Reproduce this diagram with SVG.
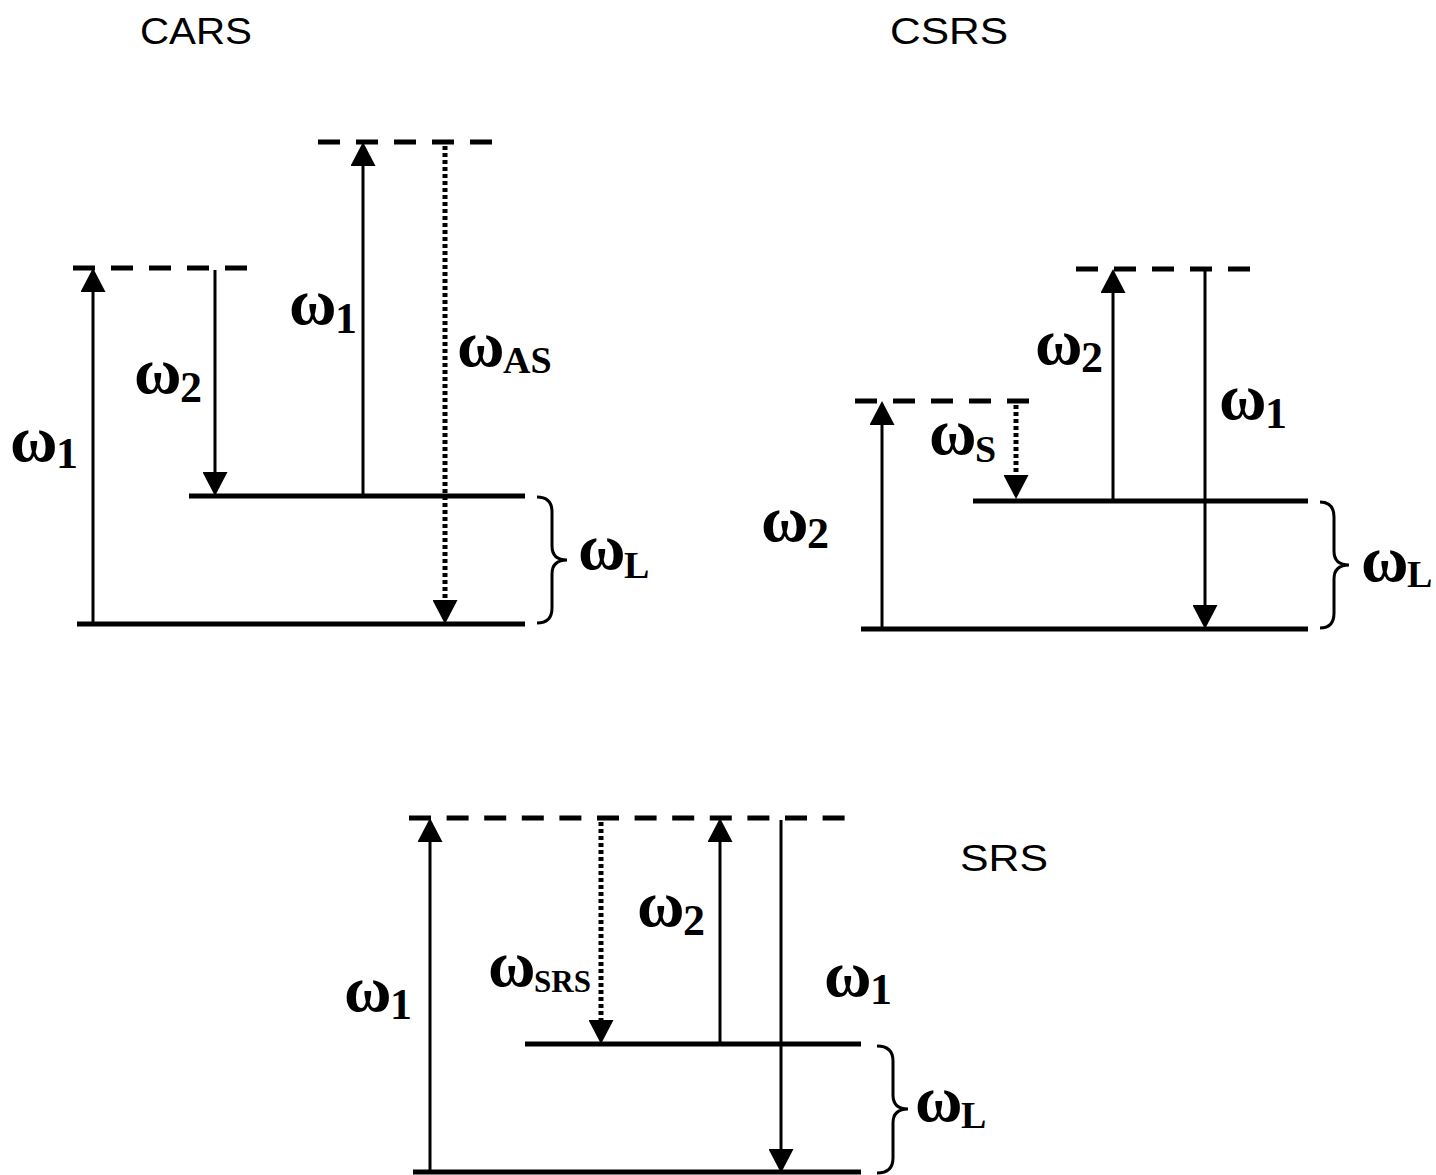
<svg xmlns="http://www.w3.org/2000/svg" width="1436" height="1175" viewBox="0 0 1436 1175">
<defs>
<style>
.level{stroke:#000;stroke-width:5;fill:none}
.virt{stroke:#000;stroke-width:5;fill:none;stroke-dasharray:22 16}
.arr{stroke:#000;stroke-width:3;fill:none;marker-end:url(#ah)}
.dot{stroke:#000;stroke-width:5;fill:none;stroke-dasharray:4 3;marker-end:url(#ah)}
.brace{stroke:#000;stroke-width:3;fill:none}
.title{font-family:"Liberation Sans",Arial,sans-serif;font-size:36px;fill:#000}
.w{font-family:"Liberation Serif","Times New Roman",serif;font-weight:bold;font-size:65px;fill:#000}
.sd{font-size:44px}
.sl{font-size:38px}
</style>
<marker id="ah" viewBox="0 0 24 25" markerWidth="24" markerHeight="25" markerUnits="userSpaceOnUse" refX="12" refY="12.5" orient="auto">
<path d="M0,0 L24,12.5 L0,25 Z" fill="#000"/>
</marker>
</defs>
<rect width="1436" height="1175" fill="#fff"/>

<text class="title" x="140" y="44" textLength="112" lengthAdjust="spacingAndGlyphs">CARS</text>
<text class="title" x="890" y="44" textLength="118" lengthAdjust="spacingAndGlyphs">CSRS</text>
<text class="title" x="960" y="871" textLength="88" lengthAdjust="spacingAndGlyphs">SRS</text>

<g id="cars">
<line class="virt" x1="318" y1="142" x2="492" y2="142"/>
<line class="virt" x1="73" y1="268" x2="247" y2="268"/>
<line class="level" x1="189" y1="496" x2="525" y2="496"/>
<line class="level" x1="77" y1="624" x2="525" y2="624"/>
<path class="brace" d="M537,497 Q552,497 552,512 L552,546 Q552,560 567,560 Q552,560 552,574 L552,608 Q552,623 537,623"/>
</g>
<g id="csrs">
<line class="virt" x1="1076" y1="269" x2="1250" y2="269"/>
<line class="virt" x1="855" y1="401" x2="1029" y2="401"/>
<line class="level" x1="973" y1="501" x2="1308" y2="501"/>
<line class="level" x1="861" y1="629" x2="1308" y2="629"/>
<path class="brace" d="M1320,502 Q1334,502 1334,517 L1334,551 Q1334,565 1349,565 Q1334,565 1334,579 L1334,613 Q1334,628 1320,628"/>
</g>
<g id="srs">
<line class="virt" x1="409" y1="818" x2="845" y2="818" style="stroke-dasharray:22 15.6"/>
<line class="level" x1="525" y1="1044" x2="861" y2="1044"/>
<line class="level" x1="413" y1="1172" x2="861" y2="1172"/>
<path class="brace" d="M877,1046 Q893,1046 893,1061 L893,1095 Q893,1109 908,1109 Q893,1109 893,1123 L893,1158 Q893,1173 877,1173"/>
</g>

<g id="connectors">
<line class="arr" x1="93" y1="624" x2="93" y2="280"/>
<line class="arr" x1="215" y1="270" x2="215" y2="484"/>
<line class="arr" x1="363" y1="496" x2="363" y2="154"/>
<line class="dot" x1="445" y1="146" x2="445" y2="612"/>
<line class="arr" x1="882" y1="629" x2="882" y2="413"/>
<line class="dot" x1="1016" y1="405" x2="1016" y2="487"/>
<line class="arr" x1="1113" y1="501" x2="1113" y2="281"/>
<line class="arr" x1="1205" y1="270" x2="1205" y2="617"/>
<line class="arr" x1="430" y1="1172" x2="430" y2="830"/>
<line class="dot" x1="601" y1="822" x2="601" y2="1032"/>
<line class="arr" x1="720" y1="1044" x2="720" y2="830"/>
<line class="arr" x1="781" y1="820" x2="781" y2="1161"/>
</g>

<g id="labels">
<text class="w" x="10" y="461">ω<tspan class="sd" x="56" y="468">1</tspan></text>
<text class="w" x="134" y="393">ω<tspan class="sd" x="180" y="402">2</tspan></text>
<text class="w" x="289" y="324">ω<tspan class="sd" x="335" y="333">1</tspan></text>
<text class="w" x="457" y="366">ω<tspan class="sl" x="503" y="373">AS</tspan></text>
<text class="w" x="578" y="569">ω<tspan class="sl" x="624" y="578">L</tspan></text>

<text class="w" x="1035" y="364">ω<tspan class="sd" x="1081" y="372">2</tspan></text>
<text class="w" x="929" y="454">ω<tspan class="sl" x="975" y="462">S</tspan></text>
<text class="w" x="1219" y="419">ω<tspan class="sd" x="1265" y="428">1</tspan></text>
<text class="w" x="761" y="541">ω<tspan class="sd" x="807" y="548">2</tspan></text>
<text class="w" x="1361" y="581">ω<tspan class="sl" x="1407" y="587">L</tspan></text>

<text class="w" x="344" y="1011">ω<tspan class="sd" x="390" y="1019">1</tspan></text>
<text class="w" x="488" y="986">ω<tspan class="sl" x="534" y="992" style="font-size:31px">SRS</tspan></text>
<text class="w" x="637" y="926">ω<tspan class="sd" x="683" y="935">2</tspan></text>
<text class="w" x="824" y="996">ω<tspan class="sd" x="870" y="1004">1</tspan></text>
<text class="w" x="915" y="1121">ω<tspan class="sl" x="961" y="1128">L</tspan></text>
</g>
</svg>
